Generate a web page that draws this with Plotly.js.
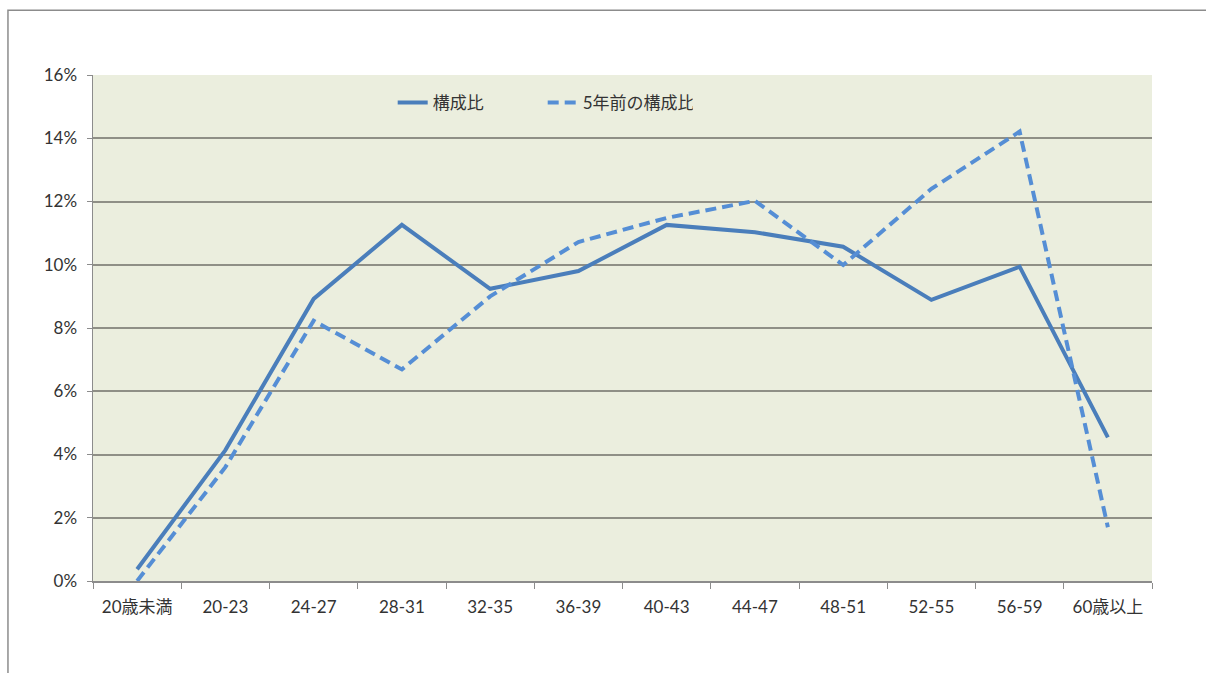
<!DOCTYPE html>
<html>
<head>
<meta charset="utf-8">
<script src="https://cdn.plot.ly/plotly-3.0.1.min.js"></script>
<style>html,body{margin:0;padding:0;background:#fff;}#chart{width:1206px;height:673px;}</style>
</head>
<body>
<div id="chart"></div>
<script>
var categories = ['20歳未満','20-23','24-27','28-31','32-35','36-39','40-43','44-47','48-51','52-55','56-59','60歳以上'];
var current = [0.37, 4.14, 8.92, 11.26, 9.24, 9.8, 11.26, 11.03, 10.57, 8.89, 9.94, 4.54];
var fiveYearsAgo = [0.0, 3.6, 8.23, 6.69, 9.0, 10.72, 11.48, 12.02, 9.99, 12.4, 14.21, 1.70];
var yTicks = [0, 2, 4, 6, 8, 10, 12, 14, 16];
var yTickText = yTicks.map(function (v) { return v + '%'; });
var seriesNames = ['構成比', '5年前の構成比'];

var font = "Lato, 'Noto Sans CJK JP', sans-serif";
var traces = [
  {x: categories, y: current, name: seriesNames[0], type: 'scatter', mode: 'lines',
   line: {color: '#4A7EBB', width: 4}},
  {x: categories, y: fiveYearsAgo, name: seriesNames[1], type: 'scatter', mode: 'lines',
   line: {color: '#558ED5', width: 4, dash: '11px,6px'}}
];
var layout = {
  width: 1206, height: 673,
  margin: {l: 93, r: 54, t: 75, b: 92},
  paper_bgcolor: '#ffffff',
  plot_bgcolor: '#EBEEDE',
  font: {family: font, size: 17, color: '#333'},
  showlegend: true,
  legend: {orientation: 'h', x: 0.283, y: 0.945, xanchor: 'left', yanchor: 'middle',
           entrywidth: 105,
           bgcolor: 'rgba(0,0,0,0)', font: {size: 17, color: '#333'}},
  xaxis: {type: 'category', range: [-0.5, 11.5], showgrid: false, showline: true,
          linecolor: '#8c8c8c', linewidth: 1.5, ticks: 'outside', tickson: 'boundaries',
          ticklen: 6, tickcolor: '#8c8c8c', tickfont: {size: 17, color: '#333'}, zeroline: false,
          ticklabelstandoff: 10},
  yaxis: {range: [0, 16], tickmode: 'array', tickvals: yTicks, ticktext: yTickText, showgrid: true,
          gridcolor: '#8f8f86', gridwidth: 2, showline: true, linecolor: '#8c8c8c', linewidth: 1.5,
          ticks: 'outside', ticklen: 5, tickcolor: '#8c8c8c', tickfont: {size: 17, color: '#333'},
          zeroline: false, ticklabelstandoff: 6},
  shapes: [
    {type: 'rect', xref: 'paper', yref: 'paper', x0: -0.0803, x1: 1.2, y0: -0.3, y1: 1.128,
     line: {color: '#8c8c8c', width: 1.5}, fillcolor: 'rgba(0,0,0,0)', layer: 'below'}
  ]
};
Plotly.newPlot('chart', traces, layout, {displayModeBar: false, staticPlot: true});
</script>
</body>
</html>
